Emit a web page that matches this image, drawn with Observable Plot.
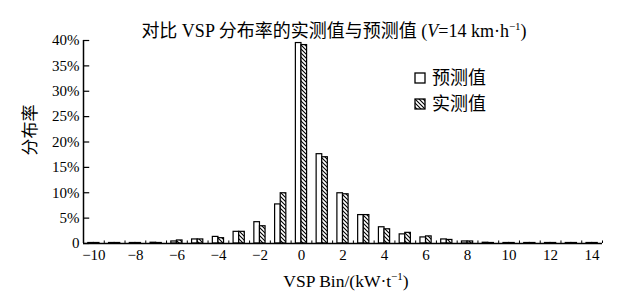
<!DOCTYPE html>
<html><head><meta charset="utf-8">
<script src="https://cdn.jsdelivr.net/npm/d3@7"></script>
<script src="https://cdn.jsdelivr.net/npm/@observablehq/plot@0.6"></script>
<style>body{margin:0;background:#fff}</style>
</head><body><div id="chart"></div>
<script>
// VSP bins (kW/t)
const bins = [-10,-9,-8,-7,-6,-5,-4,-3,-2,-1,0,1,2,3,4,5,6,7,8,9,10,11,12,13,14];
// distribution rate, percent
const predicted = [0.1,0.1,0.1,0.15,0.4,0.8,1.3,2.3,4.2,7.7,39.5,17.6,9.9,5.6,3.2,1.8,1.2,0.8,0.4,0.15,0.1,0.1,0.1,0.1,0.1];
const measured  = [0.1,0.1,0.1,0.1,0.6,0.8,1.05,2.3,3.4,9.9,39.1,17.0,9.7,5.6,2.8,2.1,1.4,0.7,0.4,0.1,0.1,0.1,0.1,0.1,0.1];
const seriesNames = ["预测值","实测值"];
const xTicks = [-10,-8,-6,-4,-2,0,2,4,6,8,10,12,14];
const yTicks = [0,0.05,0.10,0.15,0.20,0.25,0.30,0.35,0.40];
const binEdges = [-10.5,-9.5,-8.5,-7.5,-6.5,-5.5,-4.5,-3.5,-2.5,-1.5,-0.5,0.5,1.5,2.5,3.5,4.5,5.5,6.5,7.5,8.5,9.5,10.5,11.5,12.5,13.5,14.5];

const rows = bins.flatMap((b, i) => [
  {bin: b, series: seriesNames[0], v: predicted[i] / 100},
  {bin: b, series: seriesNames[1], v: measured[i] / 100}
]);
const barW = 0.27;
const xMin = binEdges[0];

const font = '"Liberation Serif","Noto Sans CJK SC",serif';
const plot = Plot.plot({
  width: 630, height: 305,
  marginLeft: 83, marginRight: 28, marginTop: 40, marginBottom: 62,
  style: {fontFamily: font, fontSize: "15px", color: "#000", background: "#fff"},
  x: {domain: [binEdges[0], binEdges[binEdges.length - 1]], label: null},
  y: {domain: [0, 0.4], label: null},
  marks: [
    Plot.rectY(rows.filter(d => d.series === seriesNames[0]), {
      x1: d => d.bin - barW, x2: d => d.bin, y: "v",
      fill: "white", stroke: "black", strokeWidth: 1.2
    }),
    Plot.rectY(rows.filter(d => d.series === seriesNames[1]), {
      x1: d => d.bin, x2: d => d.bin + barW, y: "v",
      fill: "url(#hatch)", stroke: "black", strokeWidth: 1.2
    }),
    Plot.ruleX(binEdges, {y1: 0, y2: 0.005, stroke: "black", strokeWidth: 1}),
    Plot.ruleY(yTicks, {x1: xMin, x2: xMin + 0.3, stroke: "black", strokeWidth: 1.2}),
    Plot.ruleY([0], {stroke: "black", strokeWidth: 1.5}),
    Plot.ruleX([xMin], {y1: 0, y2: 0.4, stroke: "black", strokeWidth: 1.5}),
    Plot.axisX({ticks: xTicks, tickSize: 0, tickPadding: 6, fontSize: 15,
      tickFormat: d => d < 0 ? "\u2212" + (-d) : String(d), label: null}),
    Plot.axisY({ticks: yTicks, tickSize: 0, tickPadding: 4, fontSize: 15,
      tickFormat: d => d === 0 ? "0" : Math.round(d * 100) + "%", label: null})
  ]
});

const svg = d3.select(plot);
const defs = svg.insert("defs", ":first-child");
const pat = defs.append("pattern").attr("id", "hatch")
  .attr("patternUnits", "userSpaceOnUse").attr("width", 4).attr("height", 4);
pat.append("rect").attr("width", 4).attr("height", 4).attr("fill", "white");
pat.append("path").attr("d", "M-1,-1L5,5M3,-1L5,1M-1,3L1,5")
  .attr("stroke", "black").attr("stroke-width", 1.1);

// title
const t = svg.append("text").attr("x", 334).attr("y", 37)
  .attr("text-anchor", "middle").attr("font-family", font).attr("font-size", 18).attr("fill", "#000");
t.append("tspan").text("对比 VSP 分布率的实测值与预测值 (");
t.append("tspan").attr("font-style", "italic").text("V");
t.append("tspan").text("=14 km·h");
t.append("tspan").attr("font-size", 11).attr("dy", -7).text("\u22121");
t.append("tspan").attr("dy", 7).text(")");

// x label
const xl = svg.append("text").attr("x", 346).attr("y", 287)
  .attr("text-anchor", "middle").attr("font-family", font).attr("font-size", 17.5).attr("fill", "#000");
xl.append("tspan").text("VSP Bin/(kW·t");
xl.append("tspan").attr("font-size", 11).attr("dy", -7).text("\u22121");
xl.append("tspan").attr("dy", 7).text(")");

// y label
svg.append("text").attr("transform", "translate(32,130) rotate(-90)")
  .attr("text-anchor", "middle").attr("dominant-baseline", "middle")
  .attr("font-family", font).attr("font-size", 17).attr("fill", "#000").text("分布率");

// legend
const legendFills = ["white", "url(#hatch)"];
seriesNames.forEach((name, i) => {
  const y0 = 73 + i * 26;
  svg.append("rect").attr("x", 415).attr("y", y0).attr("width", 10).attr("height", 10)
    .attr("fill", legendFills[i]).attr("stroke", "black").attr("stroke-width", 1.3);
  svg.append("text").attr("x", 432).attr("y", y0 + 11)
    .attr("text-anchor", "start")
    .attr("font-family", font).attr("font-size", 18).attr("fill", "#000").text(name);
});

document.getElementById("chart").appendChild(plot);
</script>
</body></html>
